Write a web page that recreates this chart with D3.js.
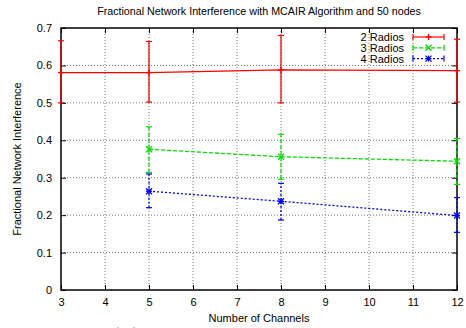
<!DOCTYPE html>
<html>
<head>
<meta charset="utf-8">
<script src="https://cdn.jsdelivr.net/npm/d3@7"></script>
<style>
  body { margin: 0; background: #fff; }
  svg { font-family: "Liberation Sans", Arial, sans-serif; }
</style>
</head>
<body>
<svg id="chart" width="466" height="328"></svg>
<script>
// data
var xTicks = [3, 4, 5, 6, 7, 8, 9, 10, 11, 12];
var yTicks = [0, 0.1, 0.2, 0.3, 0.4, 0.5, 0.6, 0.7];

var radios2X = [3, 5, 8, 12];
var radios2 = [0.581, 0.581, 0.588, 0.586];
var radios2Lo = [0.5, 0.502, 0.5, 0.502];
var radios2Hi = [0.666, 0.664, 0.68, 0.67];

var radios3X = [5, 8, 12];
var radios3 = [0.376, 0.356, 0.344];
var radios3Lo = [0.314, 0.296, 0.282];
var radios3Hi = [0.436, 0.416, 0.405];

var radios4X = [5, 8, 12];
var radios4 = [0.264, 0.237, 0.199];
var radios4Lo = [0.22, 0.187, 0.154];
var radios4Hi = [0.31, 0.285, 0.247];

var seriesNames = ["2 Radios", "3 Radios", "4 Radios"];

var margin = {left: 61, right: 9, top: 28, bottom: 38};
var width = 466, height = 328;

var svg = d3.select("#chart");

var x = d3.scaleLinear().domain([3, 12]).range([margin.left, width - margin.right]);
var y = d3.scaleLinear().domain([0, 0.7]).range([height - margin.bottom, margin.top]);

// grid
svg.append("g").selectAll("line").data(xTicks.slice(1, -1)).enter().append("line")
  .attr("x1", d => x(d)).attr("x2", d => x(d))
  .attr("y1", y(0)).attr("y2", y(0.7))
  .attr("stroke", "#777").attr("stroke-width", 1).attr("stroke-dasharray", "1,2");
svg.append("g").selectAll("line").data(yTicks.slice(1, -1)).enter().append("line")
  .attr("x1", x(3)).attr("x2", x(12))
  .attr("y1", d => y(d)).attr("y2", d => y(d))
  .attr("stroke", "#777").attr("stroke-width", 1).attr("stroke-dasharray", "1,2");

// axes (ticks pointing inward, mirrored)
var xAxis = d3.axisBottom(x).tickValues(xTicks).tickSize(-5).tickPadding(8);
var yAxis = d3.axisLeft(y).tickValues(yTicks).tickSize(-5).tickPadding(9).tickFormat(d3.format("~g"));

svg.append("g").attr("transform", "translate(0," + y(0) + ")").call(xAxis);
svg.append("g").attr("transform", "translate(" + x(3) + ",0)").call(yAxis);
svg.append("g").attr("transform", "translate(0," + y(0.7) + ")")
  .call(d3.axisTop(x).tickValues(xTicks).tickSize(-5).tickFormat(""));
svg.append("g").attr("transform", "translate(" + x(12) + ",0)")
  .call(d3.axisRight(y).tickValues(yTicks).tickSize(-5).tickFormat(""));

svg.selectAll(".domain").remove();
svg.selectAll(".tick line").attr("stroke", "#000");
svg.selectAll(".tick text").attr("font-size", 11).attr("fill", "#000")
  .attr("font-family", "Liberation Sans, Arial, sans-serif");

svg.append("rect")
  .attr("x", x(3)).attr("y", y(0.7))
  .attr("width", x(12) - x(3)).attr("height", y(0) - y(0.7))
  .attr("fill", "none").attr("stroke", "#000").attr("stroke-width", 1.5);

// series
function series(xs, vs, lo, hi, color, dash, marker, name, row) {
  var g = svg.append("g");
  var pts = xs.map((d, i) => ({x: d, v: vs[i], lo: lo[i], hi: hi[i]}));
  g.append("path").datum(pts)
    .attr("d", d3.line().x(d => x(d.x)).y(d => y(d.v)))
    .attr("fill", "none").attr("stroke", color).attr("stroke-width", 1.3)
    .attr("stroke-dasharray", dash);
  pts.forEach(function (p) {
    var cx = x(p.x);
    g.append("line").attr("x1", cx).attr("x2", cx).attr("y1", y(p.lo)).attr("y2", y(p.hi))
      .attr("stroke", color).attr("stroke-width", 1.3).attr("stroke-dasharray", dash);
    [p.lo, p.hi].forEach(function (e) {
      g.append("line").attr("x1", cx - 3).attr("x2", cx + 3).attr("y1", y(e)).attr("y2", y(e))
        .attr("stroke", color).attr("stroke-width", 1.2);
    });
    drawMarker(g, cx, y(p.v), marker, color);
  });

  // legend entry
  var ly = 37 + row * 10.8;
  svg.append("text").attr("x", 404).attr("y", ly + 4).attr("text-anchor", "end")
    .attr("font-size", 11).text(name);
  svg.append("line").attr("x1", 413).attr("x2", 444).attr("y1", ly).attr("y2", ly)
    .attr("stroke", color).attr("stroke-width", 1.2).attr("stroke-dasharray", dash);
  [413, 444].forEach(function (lx) {
    svg.append("line").attr("x1", lx).attr("x2", lx).attr("y1", ly - 3).attr("y2", ly + 3)
      .attr("stroke", color).attr("stroke-width", 1.2);
  });
  drawMarker(svg, 428.5, ly, marker, color);
}

function drawMarker(g, cx, cy, type, color) {
  var s = 3;
  var segs = [];
  if (type === "plus" || type === "star") segs.push([-s, 0, s, 0], [0, -s, 0, s]);
  if (type === "cross" || type === "star") segs.push([-s, -s, s, s], [-s, s, s, -s]);
  segs.forEach(function (q) {
    g.append("line").attr("x1", cx + q[0]).attr("y1", cy + q[1])
      .attr("x2", cx + q[2]).attr("y2", cy + q[3])
      .attr("stroke", color).attr("stroke-width", 1.3);
  });
}

series(radios2X, radios2, radios2Lo, radios2Hi, "#ff0000", null, "plus", seriesNames[0], 0);
series(radios3X, radios3, radios3Lo, radios3Hi, "#00e000", "4,2", "cross", seriesNames[1], 1);
series(radios4X, radios4, radios4Lo, radios4Hi, "#0000ff", "2,2", "star", seriesNames[2], 2);

// titles
svg.append("text").attr("x", (x(3) + x(12)) / 2).attr("y", 15).attr("text-anchor", "middle")
  .attr("font-size", 10.7).text("Fractional Network Interference with MCAIR Algorithm and 50 nodes");
svg.append("text").attr("x", (x(3) + x(12)) / 2).attr("y", 322).attr("text-anchor", "middle")
  .attr("font-size", 11).text("Number of Channels");
svg.append("text").attr("transform", "translate(21," + (y(0.35)) + ") rotate(-90)")
  .attr("text-anchor", "middle").attr("font-size", 11).text("Fractional Network Interference");

// caption, cut off by the bottom edge
svg.append("text").attr("x", 240).attr("y", 343).attr("text-anchor", "middle")
  .attr("font-family", "DejaVu Serif, serif").attr("font-size", 20)
  .text("(d) MCAIR with 50 nodes");
</script>
</body>
</html>
